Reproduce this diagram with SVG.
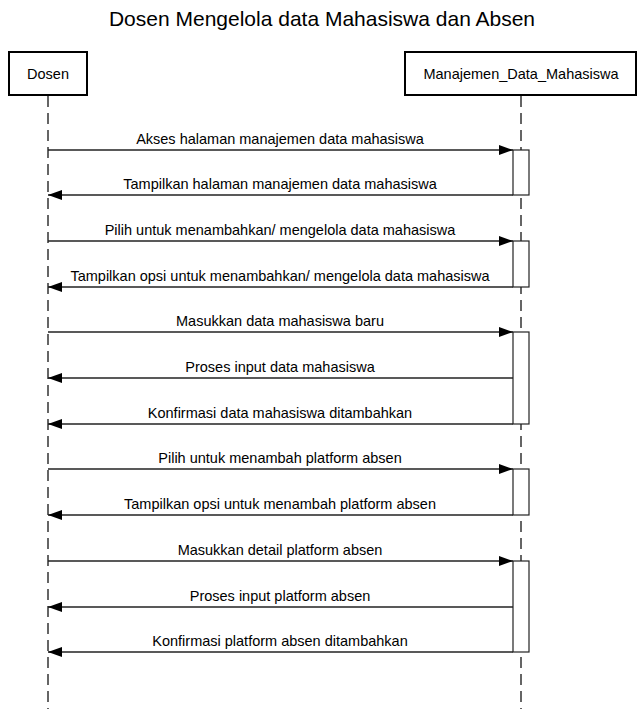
<svg xmlns="http://www.w3.org/2000/svg" width="644" height="709" viewBox="0 0 644 709">
<style>
text{font-family:"Liberation Sans",Arial,sans-serif;fill:#000}
.t{font-size:21px}
.p{font-size:14.5px}
.m{font-size:14.5px}
.box{fill:#fff;stroke:#000;stroke-width:2}
.life{stroke:#333;stroke-width:1.5;stroke-dasharray:11,6;fill:none}
.act{fill:#fff;stroke:#222;stroke-width:1.2}
.msg{stroke:#222;stroke-width:1.5;fill:none}
</style>
<defs>
<marker id="ah" markerWidth="14" markerHeight="10" refX="14" refY="5" orient="auto" markerUnits="userSpaceOnUse">
<path d="M0,0 L14,5 L0,10 Z" fill="#000"/>
</marker>
</defs>
<rect width="644" height="709" fill="#fff"/>
<text class="t" x="322" y="26" text-anchor="middle">Dosen Mengelola data Mahasiswa dan Absen</text>
<g id="lifelines">
<line class="life" x1="48" y1="96" x2="48" y2="709"/>
<line class="life" x1="521" y1="96" x2="521" y2="709"/>
</g>
<g id="dosen">
<rect class="box" x="9" y="52" width="78" height="43"/>
<text class="p" x="48" y="79" text-anchor="middle">Dosen</text>
</g>
<g id="manajemen">
<rect class="box" x="405" y="52" width="231" height="43"/>
<text class="p" x="521" y="79" text-anchor="middle">Manajemen_Data_Mahasiswa</text>
</g>
<g id="activations">
<rect class="act" x="513" y="150" width="16" height="45"/>
<rect class="act" x="513" y="241" width="16" height="46"/>
<rect class="act" x="513" y="332" width="16" height="92"/>
<rect class="act" x="513" y="469" width="16" height="46"/>
<rect class="act" x="513" y="561" width="16" height="91"/>
</g>
<g id="connectors">
<line class="msg" x1="48" y1="150" x2="513" y2="150" marker-end="url(#ah)"/>
<text class="m" x="280" y="144" text-anchor="middle">Akses halaman manajemen data mahasiswa</text>
<line class="msg" x1="513" y1="195" x2="48" y2="195" marker-end="url(#ah)"/>
<text class="m" x="280" y="189" text-anchor="middle">Tampilkan halaman manajemen data mahasiswa</text>
<line class="msg" x1="48" y1="241" x2="513" y2="241" marker-end="url(#ah)"/>
<text class="m" x="280" y="235" text-anchor="middle">Pilih untuk menambahkan/ mengelola data mahasiswa</text>
<line class="msg" x1="513" y1="287" x2="48" y2="287" marker-end="url(#ah)"/>
<text class="m" x="280" y="281" text-anchor="middle">Tampilkan opsi untuk menambahkan/ mengelola data mahasiswa</text>
<line class="msg" x1="48" y1="332" x2="513" y2="332" marker-end="url(#ah)"/>
<text class="m" x="280" y="326" text-anchor="middle">Masukkan data mahasiswa baru</text>
<line class="msg" x1="513" y1="378" x2="48" y2="378" marker-end="url(#ah)"/>
<text class="m" x="280" y="372" text-anchor="middle">Proses input data mahasiswa</text>
<line class="msg" x1="513" y1="424" x2="48" y2="424" marker-end="url(#ah)"/>
<text class="m" x="280" y="418" text-anchor="middle">Konfirmasi data mahasiswa ditambahkan</text>
<line class="msg" x1="48" y1="469" x2="513" y2="469" marker-end="url(#ah)"/>
<text class="m" x="280" y="463" text-anchor="middle">Pilih untuk menambah platform absen</text>
<line class="msg" x1="513" y1="515" x2="48" y2="515" marker-end="url(#ah)"/>
<text class="m" x="280" y="509" text-anchor="middle">Tampilkan opsi untuk menambah platform absen</text>
<line class="msg" x1="48" y1="561" x2="513" y2="561" marker-end="url(#ah)"/>
<text class="m" x="280" y="555" text-anchor="middle">Masukkan detail platform absen</text>
<line class="msg" x1="513" y1="607" x2="48" y2="607" marker-end="url(#ah)"/>
<text class="m" x="280" y="601" text-anchor="middle">Proses input platform absen</text>
<line class="msg" x1="513" y1="652" x2="48" y2="652" marker-end="url(#ah)"/>
<text class="m" x="280" y="646" text-anchor="middle">Konfirmasi platform absen ditambahkan</text>
</g>
</svg>
